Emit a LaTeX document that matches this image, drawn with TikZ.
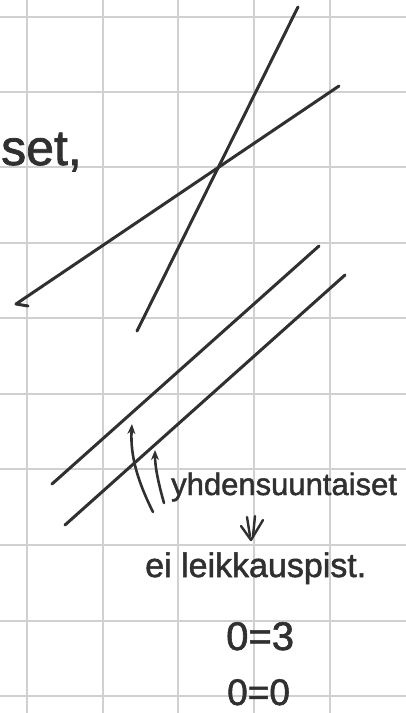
\documentclass[tikz,border=0pt]{standalone}
\usepackage{fontspec}
\setmainfont{Liberation Sans}[FakeBold=1.5]
\usetikzlibrary{arrows.meta}
\definecolor{inkc}{HTML}{303030}
\definecolor{gridc}{HTML}{D0D0D0}
\begin{document}
\begin{tikzpicture}[x=1pt,y=-1pt,
  ink/.style={draw=inkc, line width=3pt, line cap=round, line join=round},
  gridline/.style={draw=gridc, line width=1.2pt},
  hand/.style={text=inkc, inner sep=0pt, anchor=base west},
  uparrow/.style={ink, line width=2.6pt, -{Stealth[length=10pt,width=8pt]}}]
\useasboundingbox (0,0) rectangle (406,713);
\clip (0,0) rectangle (406,713);
\fill[white] (0,0) rectangle (406,713);
% grid
\foreach \x in {27,103,178,254,330} \draw[gridline] (\x,0) -- (\x,713);
\foreach \y in {17,92,167,243,318,394,469,545,621,696} \draw[gridline] (0,\y) -- (406,\y);
% intersecting lines
\coordinate (s1a) at (298,7);
\coordinate (s1b) at (137,331);
\coordinate (s2a) at (339,86);
\coordinate (s2b) at (16,304);
\coordinate (s2h) at (28,306);
\draw[ink] (s1a) -- (s1b);
\draw[ink] (s2a) -- (s2b) -- (s2h);
% parallel lines
\coordinate (p1a) at (319,246);
\coordinate (p1b) at (52,484);
\coordinate (p2a) at (345,275);
\coordinate (p2b) at (65,525);
\draw[ink] (p1a) -- (p1b);
\draw[ink] (p2a) -- (p2b);
% texts
\node[hand, font=\fontsize{50}{60}\selectfont] (set) at (1,165) {set,};
\node[hand, font=\fontsize{31}{38}\selectfont] (yhd) at (171,495) {yhdensuuntaiset};
\node[hand, font=\fontsize{34}{40}\selectfont] (ei) at (145,577) {ei leikkauspist.};
\node[hand, font=\fontsize{40}{48}\selectfont] (eq1) at (226,650) {0=3};
\node[hand, font=\fontsize{37}{44}\selectfont] (eq2) at (227,705) {0=0};
% arrows to the parallel lines
\coordinate (a1s) at (153,512);
\coordinate (a1e) at (132,424);
\coordinate (a2s) at (164,503);
\coordinate (a2e) at (155,450);
\draw[uparrow] (a1s) .. controls (138,482) and (130,456) .. (a1e);
\draw[uparrow] (a2s) .. controls (158,482) and (155,466) .. (a2e);
% double implication arrow
\coordinate (d1s) at (247,517);
\coordinate (d2s) at (255,516);
\coordinate (dl) at (241,526);
\coordinate (dt) at (251,540);
\coordinate (dr) at (263,520);
\draw[ink, line width=2.4pt] (d1s) -- (250,536);
\draw[ink, line width=2.4pt] (d2s) -- (253,536);
\draw[ink, line width=2.4pt] (dl) -- (dt) -- (dr);
\end{tikzpicture}
\end{document}
